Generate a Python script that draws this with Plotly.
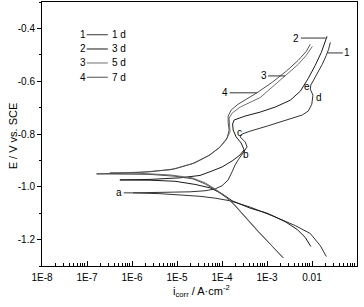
import plotly.graph_objects as go

# ---------------- data (current density A/cm^2, potential V vs SCE) ----------------
# Curve 1 (1 d)
c1_cath_i = [1.05e-6, 4.18e-6, 1.51e-5, 3.25e-5, 7.02e-5, 1.51e-4, 4.23e-4, 1.37e-3, 4.25e-3, 9.16e-3, 1.53e-2, 2.08e-2]
c1_cath_E = [-1.023, -1.026, -1.032, -1.036, -1.043, -1.053, -1.077, -1.111, -1.147, -1.177, -1.223, -1.264]
c1_an_i = [1.05e-6, 4.18e-6, 1.95e-5, 4.21e-5, 7.02e-5, 1.0e-4, 1.37e-4, 1.68e-4, 1.96e-4, 2.29e-4,
           2.95e-4, 3.62e-4, 3.27e-4, 2.53e-4, 2.81e-4, 4.23e-4, 1.01e-3, 3.29e-3, 6.08e-3, 8.28e-3,
           9.9e-3, 1.05e-2, 9.16e-3, 9.4e-3, 1.12e-2, 1.38e-2, 1.69e-2, 2.08e-2, 2.34e-2, 2.56e-2]
c1_an_E = [-1.023, -1.022, -1.019, -1.015, -1.008, -0.996, -0.974, -0.943, -0.917, -0.898,
           -0.868, -0.849, -0.830, -0.811, -0.800, -0.789, -0.770, -0.743, -0.728, -0.713,
           -0.687, -0.653, -0.630, -0.615, -0.592, -0.565, -0.536, -0.502, -0.479, -0.453]

# Curve 2 (3 d)
c2_cath_i = [5.37e-7, 2.51e-6, 9.0e-6, 2.52e-5, 5.43e-5, 1.0e-4, 1.68e-4, 4.23e-4, 1.01e-3, 2.54e-3, 4.71e-3, 7.1e-3, 9.4e-3]
c2_cath_E = [-0.974, -0.975, -0.979, -0.991, -1.004, -1.026, -1.053, -1.081, -1.100, -1.132, -1.162, -1.192, -1.226]
c2_an_i = [5.37e-7, 2.51e-6, 1.17e-5, 3.25e-5, 6.02e-5, 1.0e-4, 1.68e-4, 2.53e-4, 3.1e-4, 2.66e-4,
           2.06e-4, 1.77e-4, 1.72e-4, 1.86e-4, 3.27e-4, 7.06e-4, 1.52e-3, 3.29e-3, 5.5e-3, 8.28e-3,
           1.18e-2, 1.61e-2, 2.16e-2]
c2_an_E = [-0.974, -0.972, -0.966, -0.957, -0.940, -0.925, -0.902, -0.879, -0.860, -0.834,
           -0.811, -0.785, -0.762, -0.747, -0.732, -0.717, -0.698, -0.672, -0.638, -0.589,
           -0.540, -0.491, -0.430]

# Curve 3 (5 d)
c3_cath_i = [3.22e-7, 1.5e-6, 6.98e-6, 2.16e-5, 4.21e-5, 7.02e-5, 1.23e-4, 1.77e-4, 6.37e-4, 2.25e-3]
c3_cath_E = [-0.947, -0.949, -0.955, -0.966, -0.985, -1.008, -1.038, -1.062, -1.168, -1.268]
c3_an_i = [3.22e-7, 1.5e-6, 6.98e-6, 2.16e-5, 4.9e-5, 8.6e-5, 1.23e-4, 1.51e-4, 1.47e-4, 1.44e-4,
           1.68e-4, 2.53e-4, 7.06e-4, 2.54e-3, 4.95e-3, 7.46e-3, 1.02e-2]
c3_an_E = [-0.947, -0.945, -0.936, -0.913, -0.883, -0.853, -0.823, -0.792, -0.762, -0.740,
           -0.721, -0.698, -0.662, -0.580, -0.536, -0.502, -0.468]

# Curve 4 (7 d)
c4_cath_i = [1.63e-7, 8.98e-7, 2.51e-6, 9.0e-6, 2.27e-5, 4.21e-5, 7.02e-5, 1.23e-4, 1.77e-4, 6.37e-4, 2.33e-3]
c4_cath_E = [-0.951, -0.952, -0.953, -0.960, -0.970, -0.989, -1.011, -1.040, -1.064, -1.170, -1.270]
c4_an_i = [1.63e-7, 5.37e-7, 2.51e-6, 9.0e-6, 2.52e-5, 5.43e-5, 9.08e-5, 1.30e-4, 1.44e-4, 1.37e-4,
           1.37e-4, 1.60e-4, 2.29e-4, 5.96e-4, 1.31e-3, 2.68e-3, 4.95e-3, 7.46e-3, 9.16e-3]
c4_an_E = [-0.951, -0.949, -0.943, -0.932, -0.909, -0.879, -0.849, -0.815, -0.785, -0.755,
           -0.732, -0.709, -0.687, -0.644, -0.604, -0.562, -0.521, -0.487, -0.460]

curve_ids = ["1", "2", "3", "4"]
curve_names = ["1 d", "3 d", "5 d", "7 d"]
curve_colors = ["#333333", "#1a1a1a", "#707070", "#505050"]

x_tickvals = [1e-8, 1e-7, 1e-6, 1e-5, 1e-4, 1e-3, 1e-2, 1e-1]
x_ticktext = ["1E-8", "1E-7", "1E-6", "1E-5", "1E-4", "1E-3", "0.01", "0.1"]
y_tickvals = [-1.2, -1.0, -0.8, -0.6, -0.4]
y_ticktext = ["-1.2", "-1.0", "-0.8", "-0.6", "-0.4"]
y_minor = [-1.3, -1.1, -0.9, -0.7, -0.5, -0.3]

FONT = "Arial, Liberation Sans, sans-serif"

curves = [
    (c1_cath_i, c1_cath_E, c1_an_i, c1_an_E),
    (c2_cath_i, c2_cath_E, c2_an_i, c2_an_E),
    (c3_cath_i, c3_cath_E, c3_an_i, c3_an_E),
    (c4_cath_i, c4_cath_E, c4_an_i, c4_an_E),
]

fig = go.Figure()
for (ci, cE, ai, aE), name, col in zip(curves, curve_names, curve_colors):
    xs = list(reversed(ci)) + ai[1:]
    ys = list(reversed(cE)) + aE[1:]
    fig.add_trace(go.Scatter(x=xs, y=ys, mode="lines", name=name,
                             line=dict(color=col, width=1), showlegend=False))

x_minor = [k * 10.0 ** d for d in range(-8, -1) for k in range(2, 10)]

fig.update_xaxes(type="log", range=[-8, -1], tickvals=x_tickvals, ticktext=x_ticktext,
                 ticks="inside", ticklen=5, tickcolor="black", tickwidth=1,
                 showline=True, linecolor="black", linewidth=1, mirror=True,
                 showgrid=False, zeroline=False, ticklabelstandoff=2,
                 minor=dict(tickvals=x_minor, ticks="inside", ticklen=3, tickcolor="black", showgrid=False),
                 tickfont=dict(family=FONT, size=10, color="black"))
fig.update_yaxes(range=[-1.3, -0.3], tickvals=y_tickvals, ticktext=y_ticktext,
                 ticks="outside", ticklen=4, tickcolor="black", tickwidth=1,
                 showline=True, linecolor="black", linewidth=1, mirror=True,
                 showgrid=False, zeroline=False,
                 minor=dict(tickvals=y_minor, ticks="outside", ticklen=2, tickcolor="black", showgrid=False),
                 tickfont=dict(family=FONT, size=10, color="black"))

ann = []
shapes = []
# axis titles
ann.append(dict(xref="paper", yref="paper", x=0.505, y=-0.094, xanchor="center", yanchor="middle",
                text="i<sub>corr</sub> / A·cm<sup>-2</sup>", showarrow=False,
                font=dict(family=FONT, size=11, color="black")))
ann.append(dict(xref="paper", yref="paper", x=-0.091, y=0.4926, xanchor="center", yanchor="middle",
                text="E / V vs. SCE", textangle=-90, showarrow=False,
                font=dict(family=FONT, size=11, color="black")))

# custom legend "1 —— 1 d"
leg_y = [0.876, 0.822, 0.769, 0.715]
for cid, name, col, yy in zip(curve_ids, curve_names, curve_colors, leg_y):
    ann.append(dict(xref="paper", yref="paper", x=0.1295, y=yy, xanchor="center", yanchor="middle",
                    text=cid, showarrow=False, font=dict(family=FONT, size=10, color="black")))
    shapes.append(dict(type="line", xref="paper", yref="paper", x0=0.142, x1=0.209, y0=yy, y1=yy,
                       line=dict(color=col, width=1)))
    ann.append(dict(xref="paper", yref="paper", x=0.2155, y=yy, xanchor="left", yanchor="middle",
                    text=name, showarrow=False, font=dict(family=FONT, size=10, color="black")))

# curve labels with leader lines (x in log10 units for annotations on log axis)
leaders = [
    ("1", -1.659, -0.493, 20, 0),
    ("2", -1.693, -0.4366, -29.5, 0),
    ("3", -2.595, -0.580, -21.7, 0),
    ("4", -3.225, -0.644, -31.7, 0),
    ("a", -5.98, -1.023, -13.7, 0),
]
for t, lx, ly, axp, ayp in leaders:
    ann.append(dict(x=lx, y=ly, xref="x", yref="y", text=t, showarrow=True, arrowhead=0,
                    arrowwidth=1, arrowcolor="#333333", ax=axp, ay=ayp,
                    font=dict(family=FONT, size=10, color="black")))
points = [("b", -3.463, -0.879), ("c", -3.612, -0.795), ("d", -1.853, -0.6615), ("e", -2.111, -0.619)]
for t, lx, ly in points:
    ann.append(dict(x=lx, y=ly, xref="x", yref="y", text=t, showarrow=False,
                    font=dict(family=FONT, size=10, color="black")))

fig.update_layout(width=364, height=307, margin=dict(l=42, r=7, t=2, b=41),
                  plot_bgcolor="white", paper_bgcolor="white", hovermode=False,
                  annotations=ann, shapes=shapes, showlegend=False)

fig.write_html("out.html", config={"displayModeBar": False},
               post_script="document.body.style.margin='0px';")
